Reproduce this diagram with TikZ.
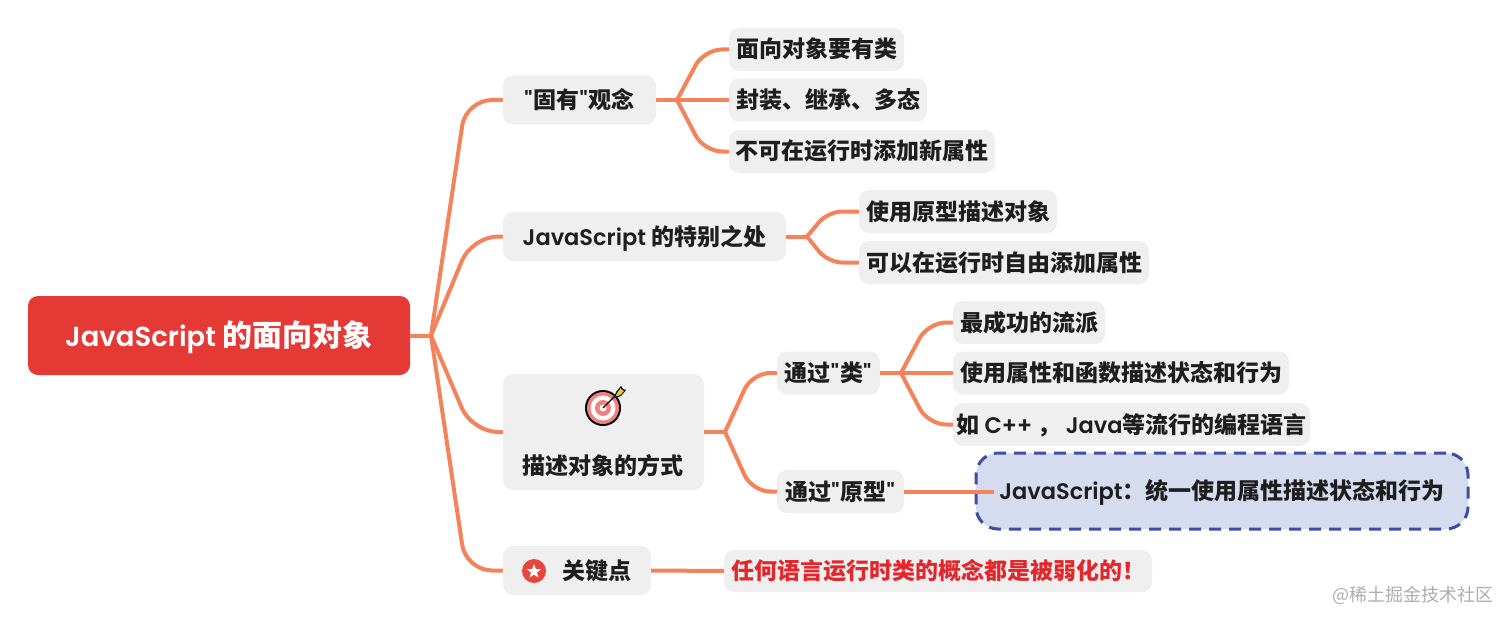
\documentclass[tikz,border=0pt]{standalone}
\usepackage{fontspec}
\setmainfont{Noto Sans CJK SC}
\newfontfamily\latfont[BoldFont={Poppins SemiBold}]{Poppins}
\newcommand{\lat}[1]{{\latfont\bfseries\fontsize{22.5}{22.5}\selectfont #1}}
\newcommand{\rootlat}[1]{{\latfont\bfseries\fontsize{27.5}{27.5}\selectfont #1}}
\newcommand{\qm}{\lat{"}\kern1pt}
\usetikzlibrary{shapes.geometric,calc}
\definecolor{linec}{HTML}{F5825A}
\definecolor{boxc}{HTML}{EFEFEF}
\definecolor{rootc}{HTML}{E53935}
\definecolor{txtc}{HTML}{1E1E1E}
\definecolor{dashc}{HTML}{3F4DA8}
\definecolor{dashf}{HTML}{D6DCEF}
\definecolor{redt}{HTML}{E3262B}
\definecolor{wm}{HTML}{ADADAD}
\definecolor{ringc}{HTML}{F0807F}
\definecolor{featherc}{HTML}{E8C24A}
\definecolor{starc}{HTML}{E8453C}
\tikzset{
  x=1pt,y=-1pt,
  box/.style={draw=none,fill=boxc,rounded corners=10pt,inner sep=0pt,text=txtc,text height=20.5pt,text depth=3.5pt,font=\fontsize{23}{23}\selectfont\bfseries},
  label text/.style={inner sep=0pt,text=txtc,text height=20.5pt,text depth=3.5pt,font=\fontsize{23}{23}\selectfont\bfseries},
  rootbox/.style={box,fill=rootc,text=white,text height=26pt,text depth=5pt,font=\fontsize{30}{30}\selectfont\bfseries},
  hbox/.style={box,dash pattern=on 12pt off 8pt,draw=dashc,line width=3pt,fill=dashf,rounded corners=22pt},
  conn/.style={draw=linec,line width=4pt,line join=round},
  c1/.style={conn,rounded corners=26pt},
  c2/.style={conn,rounded corners=18pt},
  c3/.style={conn,rounded corners=14pt},
}
\begin{document}
\begin{tikzpicture}
\useasboundingbox (0,0) rectangle (1512,623);
% nodes
\node[rootbox,minimum width=382pt,minimum height=79pt] (root) at (219,335.5) {\rootlat{JavaScript} 的面向对象};
\node[box,minimum width=153pt,minimum height=49pt] (a) at (579.5,100) {\qm 固有\qm 观念};
\node[box,minimum width=283pt,minimum height=49pt] (b) at (644.5,236.5) {\lat{JavaScript} 的特别之处};
\node[box,minimum width=201pt,minimum height=116pt] (c) at (603.5,432) {};
\node[label text] (clabel) at (603,465.5) {描述对象的方式};
\node[box,minimum width=148pt,minimum height=49pt] (d) at (577,570.5) {};
\node[label text] (dlabel) at (596.5,570.5) {关键点};
\node[box,minimum width=175pt,minimum height=43pt] (a1) at (816.5,49.5) {面向对象要有类};
\node[box,minimum width=198pt,minimum height=43pt] (a2) at (828,100) {封装、继承、多态};
\node[box,minimum width=266pt,minimum height=43pt] (a3) at (862,151.5) {不可在运行时添加新属性};
\node[box,minimum width=198pt,minimum height=43pt] (b1) at (958,211.5) {使用原型描述对象};
\node[box,minimum width=290pt,minimum height=43pt] (b2) at (1004,262.5) {可以在运行时自由添加属性};
\node[box,minimum width=103pt,minimum height=43pt] (c1n) at (828.5,373) {通过\qm 类\qm};
\node[box,minimum width=127pt,minimum height=43pt] (c2n) at (840.5,491.5) {通过\qm 原型\qm};
\node[box,minimum width=152pt,minimum height=43pt] (e1) at (1029,322.5) {最成功的流派};
\node[box,minimum width=336pt,minimum height=43pt] (e2) at (1121,373) {使用属性和函数描述状态和行为};
\node[box,minimum width=357pt,minimum height=43pt] (e3) at (1131.5,424.5) {如 \lat{C++} ， \lat{Java}等流行的编程语言};
\node[hbox,minimum width=492pt,minimum height=76pt] (f) at (1222,491) {\lat{JavaScript}：统一使用属性描述状态和行为};
\node[box,minimum width=428pt,minimum height=42pt,text=redt] (k) at (938,571) {任何语言运行时类的概念都是被弱化的！};
\node[inner sep=0pt,text=wm,font=\fontsize{18}{18}\selectfont] (wmk) at (1413,595) {@稀土掘金技术社区};
% junctions
\coordinate (j0) at (431,335.5);
\coordinate (ja) at (677,100);
\coordinate (jb) at (807,236.5);
\coordinate (jc) at (725,432);
\coordinate (je) at (901,373);
\coordinate (fend) at (994,491.5);
% connectors
\draw[conn] (root.east) -- (j0);
\draw[c1] (j0) -- (466,100) -- (a.west);
\draw[c1] (j0) -- (472,236.5) -- (b.west);
\draw[c1] (j0) -- (472,432) -- (c.west);
\draw[c1] (j0) -- (466,570.5) -- (d.west);
\draw[conn] (a.east) -- (ja);
\draw[c2] (ja) -- (704,49.5) -- (a1.west);
\draw[conn] (ja) -- (a2.west);
\draw[c2] (ja) -- (704,151.5) -- (a3.west);
\draw[conn] (b.east) -- (jb);
\draw[c3] (jb) -- (828,211.5) -- (b1.west);
\draw[c3] (jb) -- (828,262.5) -- (b2.west);
\draw[conn] (c.east) -- (jc);
\draw[c2] (jc) -- (752,373) -- (c1n.west);
\draw[c2] (jc) -- (752,491.5) -- (c2n.west);
\draw[conn] (c1n.east) -- (je);
\draw[c2] (je) -- (928,322.5) -- (e1.west);
\draw[conn] (je) -- (e2.west);
\draw[c2] (je) -- (928,424.5) -- (e3.west);
\draw[conn] (c2n.east) -- (fend);
\draw[conn] (d.east) -- (k.west);
% target icon
\fill[black] (603,408) circle (18);
\fill[ringc] (603,408) circle (16);
\fill[white] (603,408) circle (12.5);
\fill[ringc] (603,408) circle (8);
\fill[white] (603,408) circle (3.5);
\draw[black,line width=1.2pt] (603,408) -- (617,394);
\fill[black] (614,398) -- (616,392) -- (621,386) -- (623,389) -- (626,390) -- (621,396) -- cycle;
\fill[featherc] (615.5,396.5) -- (617,393) -- (620.7,388) -- (622,390) -- (624,391) -- (620.5,395) -- cycle;
% star icon
\fill[starc] (534,571) circle (12);
\node[star,star points=5,star point ratio=2.4,fill=white,inner sep=0pt,minimum size=15pt] (st) at (534,571.5) {};
\end{tikzpicture}
\end{document}
